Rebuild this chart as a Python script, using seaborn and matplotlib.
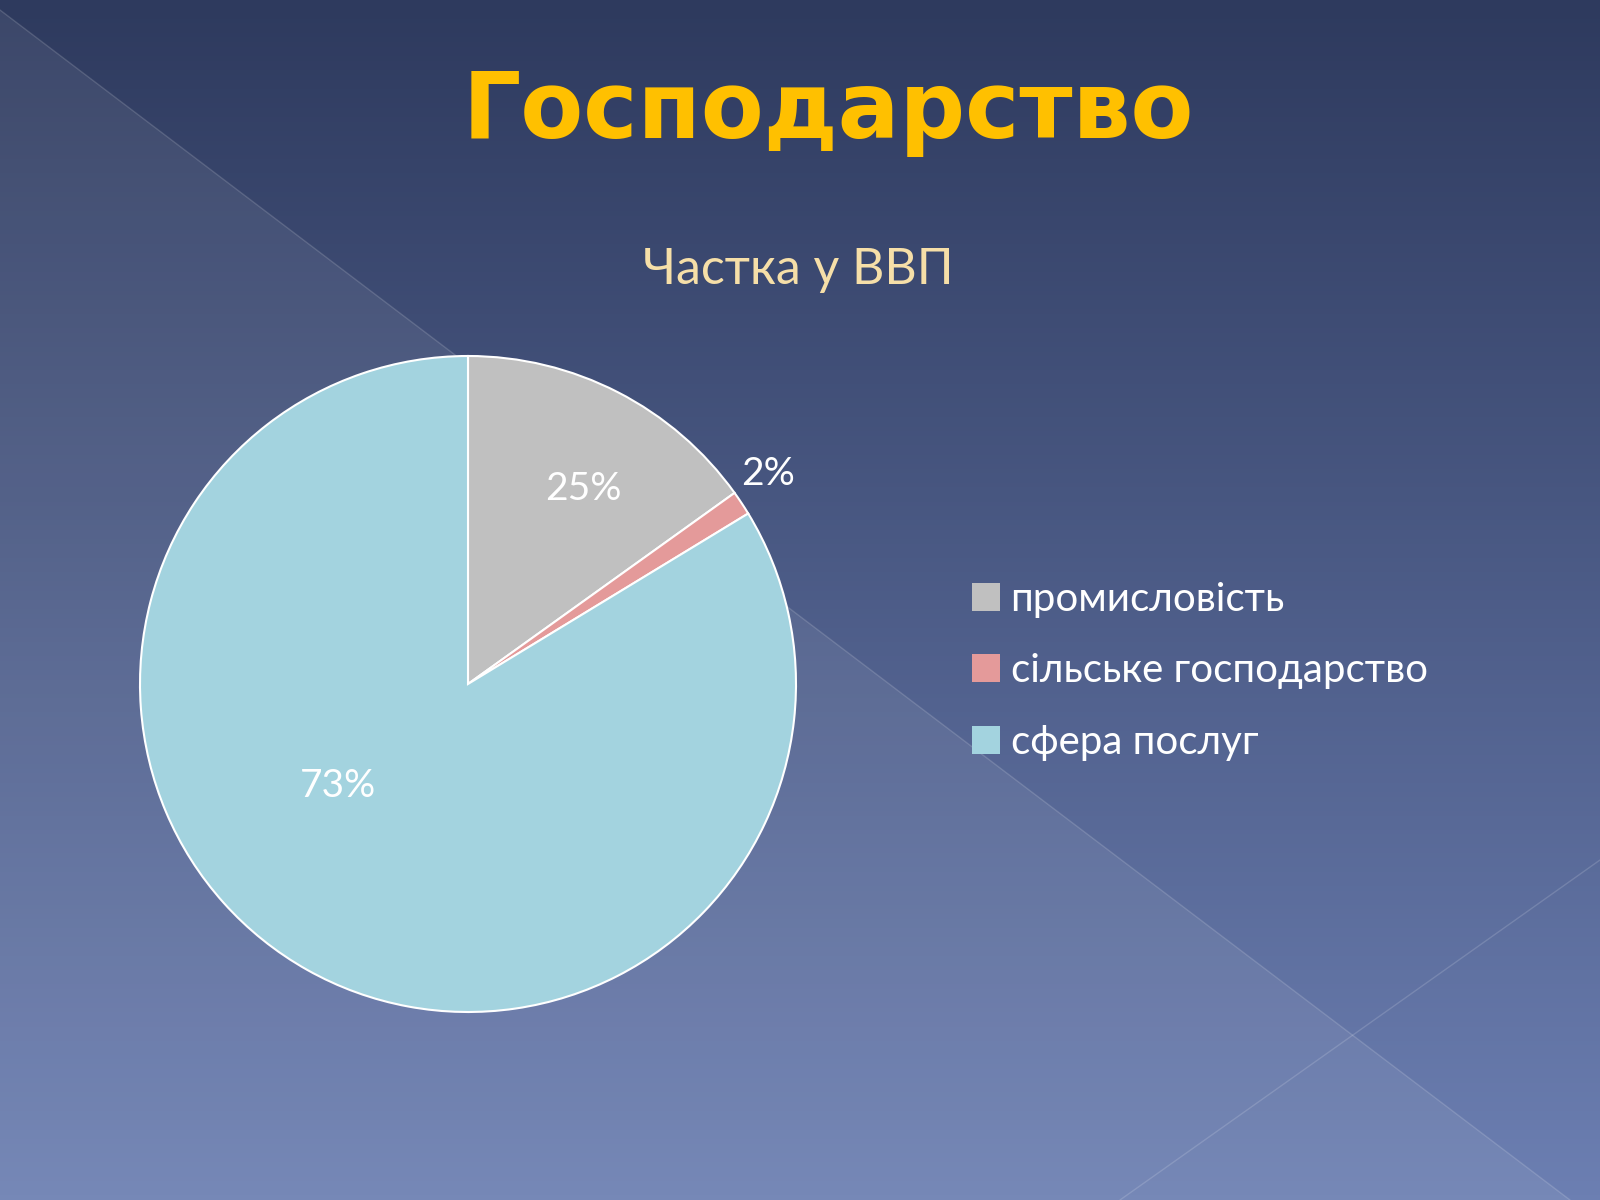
import numpy as np
import matplotlib
matplotlib.use("Agg")
import matplotlib.pyplot as plt
import seaborn as sns
from matplotlib.patches import Polygon, Patch

sns.set_theme(style="white")
plt.rcParams['font.family'] = ['Lato', 'DejaVu Sans']

categories = ["промисловість", "сільське господарство", "сфера послуг"]
values = [15.1, 1.2, 83.7]          # slice sizes as drawn
labels = ["25%", "2%", "73%"]       # printed labels
colors = ["#c0c0c0", "#e49a9a", "#a3d3df"]

fig = plt.figure(figsize=(16, 12), dpi=100)
bg = fig.add_axes([0, 0, 1, 1])
grad = np.linspace(0, 1, 256)[:, None]
c0 = np.array([0x2e, 0x3a, 0x5e]) / 255
c1 = np.array([0x6c, 0x7f, 0xb2]) / 255
img = c0 + (c1 - c0) * grad[..., None]
img = np.repeat(img, 2, axis=1)
bg.imshow(img, extent=[0, 1600, 1200, 0], aspect='auto')
bg.add_patch(Polygon([[0, 10], [1570, 1200], [0, 1200]], closed=True, color='white', alpha=0.07, lw=0))
bg.plot([0, 1570], [10, 1200], color='white', alpha=0.15, lw=1)
bg.plot([1600, 1120], [860, 1200], color='white', alpha=0.15, lw=1)
bg.set_xlim(0, 1600); bg.set_ylim(1200, 0); bg.axis('off')

fig.text(0.5175, 1 - 112 / 1200, "Господарство", color="#ffc000", fontsize=66,
         fontweight='bold', ha='center', va='center', family=['DejaVu Sans'])
fig.text(0.499, 1 - 270 / 1200, "Частка у ВВП", color="#f6dfa8", fontsize=36,
         ha='center', va='center')

ax = fig.add_axes([0.0875, 1 - 1012 / 1200, 0.41, 656 / 1200])
wedges, _ = ax.pie(values, colors=colors, startangle=90, counterclock=False,
                   wedgeprops=dict(edgecolor='white', linewidth=1.5))
ax.set_aspect('equal')
ax.set_xlim(-1, 1); ax.set_ylim(-1, 1)
label_pos = [(0.353, 0.594), (0.916, 0.64), (-0.397, -0.31)]
for (x, y), t in zip(label_pos, labels):
    ax.text(x, y, t, color='white', fontsize=28, ha='center', va='center')

handles = [Patch(facecolor=c, edgecolor='none') for c in colors]
fig.legend(handles, categories, loc='upper left', bbox_to_anchor=(0.585, 1 - 545 / 1200),
           frameon=False, fontsize=29, labelcolor='white', handlelength=0.7,
           handleheight=0.7, handletextpad=0.25, labelspacing=0.85)
fig.savefig("out.png", dpi=100)
